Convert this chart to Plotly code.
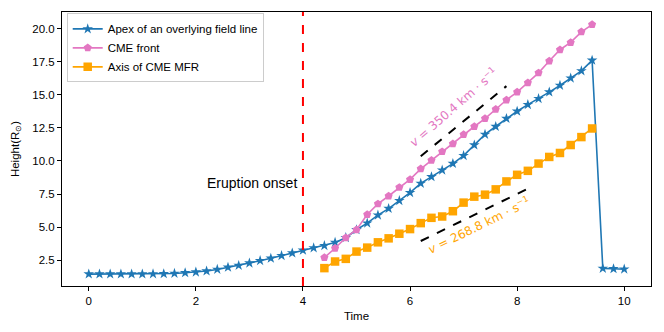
import plotly.graph_objects as go

# apex of an overlying field line
t_apex = [0.0, 0.2, 0.4, 0.6, 0.8, 1.0, 1.2, 1.4, 1.6, 1.8,
          2.0, 2.2, 2.4, 2.6, 2.8, 3.0, 3.2, 3.4, 3.6, 3.8,
          4.0, 4.2, 4.4, 4.6, 4.8, 5.0, 5.2, 5.4, 5.6, 5.8,
          6.0, 6.2, 6.4, 6.6, 6.8, 7.0, 7.2, 7.4, 7.6, 7.8,
          8.0, 8.2, 8.4, 8.6, 8.8, 9.0, 9.2, 9.4, 9.6, 9.8, 10.0]
h_apex = [1.45, 1.45, 1.45, 1.45, 1.45, 1.45, 1.46, 1.47, 1.5, 1.55,
          1.6, 1.68, 1.8, 1.96, 2.1, 2.28, 2.46, 2.64, 2.84, 3.04,
          3.25, 3.43, 3.6, 3.84, 4.2, 4.8, 5.3, 5.9, 6.4, 7.0,
          7.6, 8.3, 8.8, 9.3, 9.8, 10.4, 11.2, 12.0, 12.6, 13.2,
          13.75, 14.25, 14.7, 15.2, 15.7, 16.25, 16.8, 17.6, 1.88, 1.85, 1.82]

# CME front and axis of CME MFR
t_cme = [4.4, 4.6, 4.8, 5.0, 5.2, 5.4, 5.6, 5.8, 6.0, 6.2,
         6.4, 6.6, 6.8, 7.0, 7.2, 7.4, 7.6, 7.8, 8.0, 8.2,
         8.4, 8.6, 8.8, 9.0, 9.2, 9.4]
h_front = [2.7, 3.4, 4.2, 4.8, 5.95, 6.75, 7.35, 8.0, 8.6, 9.4,
           10.05, 10.7, 11.3, 12.0, 12.6, 13.2, 13.9, 14.6, 15.2, 15.9,
           16.65, 17.55, 18.4, 18.95, 19.75, 20.3]
h_axis = [1.9, 2.4, 2.6, 3.15, 3.45, 3.85, 4.15, 4.5, 4.85, 5.3,
          5.7, 5.8, 6.2, 6.85, 7.3, 7.45, 7.85, 8.45, 8.95, 9.25,
          9.8, 10.3, 10.6, 11.2, 11.8, 12.45]

# velocity fit guide lines
fit1_t = [6.2, 7.8]
fit1_h = [10.35, 15.65]
fit2_t = [6.2, 8.2]
fit2_h = [3.95, 7.9]

BLUE = '#1f77b4'
PINK = '#e377c2'
ORANGE = '#ffa500'

fig = go.Figure()
fig.add_trace(go.Scatter(x=t_apex, y=h_apex, mode='lines+markers', name='Apex of an overlying field line',
                         line=dict(color=BLUE, width=1.6),
                         marker=dict(symbol='star', size=8, color=BLUE)))
fig.add_trace(go.Scatter(x=t_cme, y=h_front, mode='lines+markers', name='CME front',
                         line=dict(color=PINK, width=1.6),
                         marker=dict(symbol='pentagon', size=8.5, color=PINK)))
fig.add_trace(go.Scatter(x=t_cme, y=h_axis, mode='lines+markers', name='Axis of CME MFR',
                         line=dict(color=ORANGE, width=1.6),
                         marker=dict(symbol='square', size=8.5, color=ORANGE)))
fig.add_trace(go.Scatter(x=fit1_t, y=fit1_h, mode='lines', showlegend=False,
                         line=dict(color='black', width=2, dash='dash')))
fig.add_trace(go.Scatter(x=fit2_t, y=fit2_h, mode='lines', showlegend=False,
                         line=dict(color='black', width=2, dash='dash')))

# eruption onset
fig.add_shape(type='line', x0=4, x1=4, y0=0, y1=1, yref='paper',
              line=dict(color='red', width=2, dash='dash'))
fig.add_annotation(x=3.92, y=8.3, text='Eruption onset', showarrow=False, xanchor='right',
                   font=dict(size=14, color='black', family='Liberation Sans, Arial'))
fig.add_annotation(x=6.8, y=14.1, text='<i>v</i> = 350.4 km · s<sup>−1</sup>', showarrow=False,
                   textangle=-41, font=dict(size=12, color=PINK, family='DejaVu Sans'))
fig.add_annotation(x=7.28, y=5.15, text='<i>v</i> = 268.8 km · s<sup>−1</sup>', showarrow=False,
                   textangle=-26, font=dict(size=12, color=ORANGE, family='DejaVu Sans'))

axis_style = dict(showline=True, linecolor='black', linewidth=1, mirror=True,
                  ticks='outside', ticklen=4, tickcolor='black', showgrid=False,
                  zeroline=False, automargin=False, tickfont=dict(size=11.5, color='black'))

# page body has an 8px margin, so the figure is drawn 8px smaller
fig.update_layout(
    width=656, height=324,
    margin=dict(l=54, r=13, t=4, b=46),
    plot_bgcolor='white', paper_bgcolor='white',
    font=dict(family='Liberation Sans, Arial', size=11.5, color='black'),
    xaxis=dict(title=dict(text='Time', font=dict(size=11.5), standoff=6),
               range=[-0.5, 10.5], tickvals=[0, 2, 4, 6, 8, 10], **axis_style),
    yaxis=dict(title=dict(text='Height(R<sub>⊙</sub>)', font=dict(size=11.5), standoff=10),
               range=[0.55, 21.25], tickvals=[2.5, 5, 7.5, 10, 12.5, 15, 17.5, 20],
               ticktext=['2.5', '5.0', '7.5', '10.0', '12.5', '15.0', '17.5', '20.0'], **axis_style),
    legend=dict(x=0.008, y=0.995, xanchor='left', yanchor='top', bordercolor='#cccccc',
                borderwidth=1, bgcolor='rgba(255,255,255,0.8)', font=dict(size=11.5),
                tracegroupgap=0),
)

fig.write_html("out.html")
